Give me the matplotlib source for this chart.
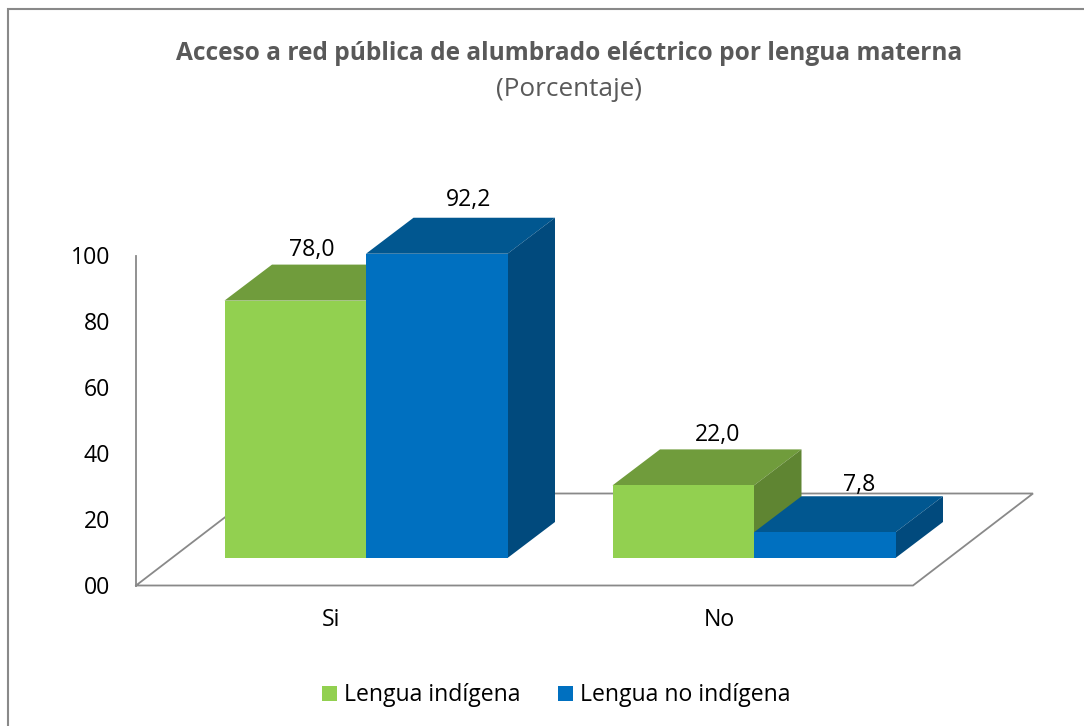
import numpy as np
import matplotlib.pyplot as plt
from matplotlib.patches import Polygon, Rectangle

plt.rcParams['font.family'] = ['Open Sans', 'DejaVu Sans']

categories = ['Si', 'No']
indigena = [78.0, 22.0]
no_indigena = [92.2, 7.8]
labels_indigena = ['78,0', '22,0']
labels_no_indigena = ['92,2', '7,8']
y_ticks = [0, 20, 40, 60, 80, 100]
y_tick_labels = ['00', '20', '40', '60', '80', '100']

# where each value label sits, in pixels from the back left corner of its bar
offsets_indigena = [(40, 15), (58, 14)]
offsets_no_indigena = [(55, 18), (58, 11)]

W, H = 1084, 726
ZERO_PX = 585.5      # pixel row of value 0 on the axis
PX_PER_UNIT = 3.3
CAT_PX = 388         # distance between the two categories
FIRST_CAT_PX = 366

GREEN = ['#92D050', '#709C3C', '#5F8532']   # front, top, side
BLUE = ['#0070C0', '#015790', '#014A7D']
GREY = '#898989'
TEXT_SIZE = 16.6


def px_x(p):
    return (p - FIRST_CAT_PX) / CAT_PX


def px_y(p):
    return (ZERO_PX - p) / PX_PER_UNIT


fig = plt.figure(figsize=(W / 100, H / 100), dpi=100)
ax = fig.add_axes([0, 0, 1, 1])
ax.set_xlim(px_x(0), px_x(W))
ax.set_ylim(px_y(H), px_y(0))
ax.axis('off')

bar_w = 141.5 / CAT_PX
dx = 47.5 / CAT_PX       # depth of the bars
dy = 36 / PX_PER_UNIT
base = 27.5 / PX_PER_UNIT    # bars stand a bit in front of the axis floor

# outer frame, right and bottom are cut off in the picture
ax.plot([px_x(7.5), px_x(7.5), px_x(W)], [px_y(H), px_y(8.5), px_y(8.5)],
        color=GREY, lw=1.5, solid_joinstyle='miter', zorder=1)
# heading of the page, only the lower edge of the letters is left in the picture
ax.text(px_x(550), px_y(-6), 'Gráfico', ha='center', va='center',
        fontsize=18, fontweight='bold', color='#8c8c8c')

# walls and floor
ax.plot([px_x(136), px_x(136)], [100, 0], color=GREY, lw=1.3, zorder=1)
ax.plot([px_x(136), px_x(913), px_x(1033), px_x(256), px_x(136)],
        [0, 0, px_y(493.5), px_y(493.5), 0], color=GREY, lw=1.3,
        solid_joinstyle='miter', zorder=1)

for t, lab in zip(y_ticks, y_tick_labels):
    ax.text(px_x(110), t - 0.7, lab, ha='right', va='center', fontsize=TEXT_SIZE, color='black')

x = np.arange(len(categories))


def bar3d(xs, vals, colors, order):
    for xi, v in zip(xs, vals):
        top = base + v
        ax.add_patch(Polygon([(xi, top), (xi + dx, top + dy),
                              (xi + dx + bar_w, top + dy), (xi + bar_w, top)],
                             fc=colors[1], ec='none', zorder=order))
        ax.add_patch(Polygon([(xi + bar_w, base), (xi + bar_w + dx, base + dy),
                              (xi + bar_w + dx, top + dy), (xi + bar_w, top)],
                             fc=colors[2], ec='none', zorder=order))
    ax.bar(xs, vals, width=bar_w, bottom=base, align='edge', color=colors[0],
           zorder=order + 0.5)


# the two series sit back to back, blue is drawn over green
bar3d(x - bar_w, indigena, GREEN, 2)
bar3d(x, no_indigena, BLUE, 3)

# value labels above the top face
for xi, v, lab, off in zip(x, indigena, labels_indigena, offsets_indigena):
    ax.text(xi - bar_w + dx + off[0] / CAT_PX, base + v + dy + off[1] / PX_PER_UNIT, lab,
            ha='center', va='center', fontsize=TEXT_SIZE, color='black', zorder=5)
for xi, v, lab, off in zip(x, no_indigena, labels_no_indigena, offsets_no_indigena):
    ax.text(xi + dx + off[0] / CAT_PX, base + v + dy + off[1] / PX_PER_UNIT, lab,
            ha='center', va='center', fontsize=TEXT_SIZE, color='black', zorder=5)

for xi, lab in zip(x, categories):
    ax.text(xi - 35 / CAT_PX, px_y(620), lab, ha='center', va='center',
            fontsize=TEXT_SIZE, color='black')

ax.text(px_x(569), px_y(54), 'Acceso a red pública de alumbrado eléctrico por lengua materna',
        ha='center', va='center', fontsize=17.65, fontweight='bold', color='#595959')
ax.text(px_x(569), px_y(89), '(Porcentaje)', ha='center', va='center',
        fontsize=18.8, color='#595959')

# legend
ax.add_patch(Rectangle((px_x(322), px_y(701)), px_x(337) - px_x(322), px_y(686) - px_y(701),
                       fc=GREEN[0], ec='none'))
ax.text(px_x(344), px_y(695), 'Lengua indígena', ha='left', va='center',
        fontsize=TEXT_SIZE, color='black')
ax.add_patch(Rectangle((px_x(558), px_y(701)), px_x(573) - px_x(558), px_y(686) - px_y(701),
                       fc=BLUE[0], ec='none'))
ax.text(px_x(580), px_y(695), 'Lengua no indígena', ha='left', va='center',
        fontsize=TEXT_SIZE, color='black')

fig.savefig('out.png', dpi=100)
